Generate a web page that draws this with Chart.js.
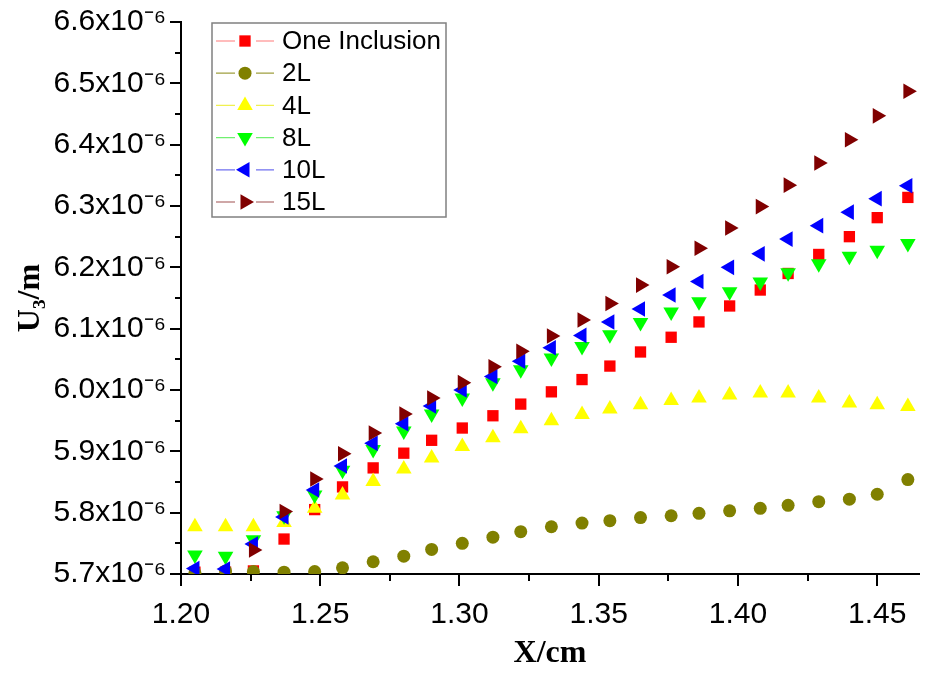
<!DOCTYPE html>
<html>
<head>
<meta charset="utf-8">
<script src="https://cdn.jsdelivr.net/npm/chart.js@4.4.0/dist/chart.umd.min.js"></script>
<style>
	body{ margin:0; background:#fff }
	#grafico{ display:block }
</style>
</head>
<body>
<canvas id="grafico" width="928" height="673"></canvas>
<script>
// posiciones X/cm
const posiciones = [1.205, 1.216, 1.226, 1.237, 1.248, 1.258, 1.269, 1.280, 1.290, 1.301, 1.312, 1.322, 1.333,
	1.344, 1.354, 1.365, 1.376, 1.386, 1.397, 1.408, 1.418, 1.429, 1.440, 1.450, 1.461]

// U3/m, en unidades de 1e-6
const unaInclusion = [5.703, 5.703, 5.705, 5.757, 5.805, 5.842, 5.873, 5.897, 5.918, 5.938, 5.958, 5.977, 5.997,
	6.017, 6.039, 6.062, 6.086, 6.111, 6.137, 6.163, 6.190, 6.221, 6.250, 6.281, 6.314]
const capas2L = [5.702, 5.705, 5.704, 5.703, 5.704, 5.710, 5.720, 5.729, 5.740, 5.750, 5.760, 5.769, 5.777,
	5.783, 5.787, 5.792, 5.795, 5.799, 5.803, 5.807, 5.812, 5.818, 5.822, 5.830, 5.854]
const capas4L = [5.777, 5.777, 5.777, 5.784, 5.807, 5.829, 5.851, 5.871, 5.889, 5.908, 5.922, 5.937, 5.950,
	5.960, 5.969, 5.976, 5.983, 5.987, 5.992, 5.995, 5.995, 5.987, 5.979, 5.976, 5.973]
const capas8L = [5.731, 5.729, 5.756, 5.795, 5.829, 5.869, 5.903, 5.933, 5.961, 5.987, 6.012, 6.033, 6.052,
	6.071, 6.090, 6.110, 6.127, 6.144, 6.160, 6.176, 6.191, 6.206, 6.218, 6.228, 6.239]
const capas10L = [5.709, 5.708, 5.749, 5.793, 5.837, 5.876, 5.913, 5.945, 5.974, 6.000, 6.022, 6.047, 6.069,
	6.089, 6.111, 6.132, 6.155, 6.177, 6.200, 6.222, 6.246, 6.268, 6.290, 6.312, 6.333]
const capas15L = [null, null, 5.739, 5.802, 5.855, 5.896, 5.930, 5.961, 5.987, 6.012, 6.038, 6.063, 6.088,
	6.114, 6.141, 6.171, 6.201, 6.231, 6.264, 6.299, 6.334, 6.370, 6.408, 6.447, 6.487]

const nombres = ["One Inclusion", "2L", "4L", "8L", "10L", "15L"]

const ticksX = [1.20, 1.25, 1.30, 1.35, 1.40, 1.45]
const menoresX = [1.225, 1.275, 1.325, 1.375, 1.425]
const ticksY = [5.7, 5.8, 5.9, 6.0, 6.1, 6.2, 6.3, 6.4, 6.5, 6.6]
const menoresY = [5.75, 5.85, 5.95, 6.05, 6.15, 6.25, 6.35, 6.45, 6.55]

function serie(nombre, valores, color, linea, estilo, radio, giro, orden){
	return {
		label: nombre,
		data: posiciones.map((x, i) => ({x: x, y: valores[i]})),
		backgroundColor: color,
		borderColor: color,
		pointStyle: estilo,
		pointRadius: radio,
		pointHoverRadius: radio,
		pointRotation: giro,
		pointBorderWidth: 0,
		showLine: false,
		order: orden,
		lineaLeyenda: linea
	}
}

const series = [
	serie(nombres[0], unaInclusion, "#ff0000", "#ff7a7a", "rect", 8, 0, 6),
	serie(nombres[1], capas2L, "#808000", "#a0a040", "circle", 6.5, 0, 5),
	serie(nombres[2], capas4L, "#ffff00", "#f0f050", "triangle", 9, 0, 4),
	serie(nombres[3], capas8L, "#00ff00", "#70f070", "triangle", 9, 180, 3),
	serie(nombres[4], capas10L, "#0000ff", "#7070f0", "triangle", 9, -90, 2),
	serie(nombres[5], capas15L, "#800000", "#a05050", "triangle", 9, 90, 1)
]

// marcas menores de los ejes
const marcasMenores = {
	id: "marcasMenores",
	afterDraw(chart){
		const {ctx, chartArea, scales} = chart
		ctx.save()
		ctx.strokeStyle = "#000"
		ctx.lineWidth = 2
		ctx.beginPath()
		menoresX.forEach(v => {
			const px = Math.round(scales.x.getPixelForValue(v))
			ctx.moveTo(px, chartArea.bottom)
			ctx.lineTo(px, chartArea.bottom + 7)
		})
		menoresY.forEach(v => {
			const py = Math.round(scales.y.getPixelForValue(v))
			ctx.moveTo(chartArea.left, py)
			ctx.lineTo(chartArea.left - 6, py)
		})
		ctx.stroke()
		ctx.restore()
	}
}

// leyenda dentro del grafico, linea-marcador-linea
const leyenda = {
	id: "leyenda",
	afterDraw(chart){
		const ctx = chart.ctx
		ctx.save()
		ctx.fillStyle = "#fff"
		ctx.fillRect(212, 23, 234, 194)
		ctx.strokeStyle = "#808080"
		ctx.lineWidth = 1.5
		ctx.strokeRect(212, 23, 234, 194)
		chart.data.datasets.forEach((ds, i) => {
			const y = 41 + i * 32.2
			ctx.strokeStyle = ds.lineaLeyenda
			ctx.lineWidth = 1.2
			ctx.beginPath()
			ctx.moveTo(216, y)
			ctx.lineTo(235, y)
			ctx.moveTo(256, y)
			ctx.lineTo(274, y)
			ctx.stroke()
			ctx.fillStyle = ds.backgroundColor
			Chart.helpers.drawPoint(ctx, {pointStyle: ds.pointStyle, radius: ds.pointRadius, rotation: ds.pointRotation, borderWidth: 0}, 245, y)
			ctx.fillStyle = "#000"
			ctx.font = "26px 'Liberation Sans', Arial, sans-serif"
			ctx.textBaseline = "middle"
			ctx.fillText(ds.label, 282, y + 1)
		})
		ctx.restore()
	}
}

const fuenteEjes = {family: "'Liberation Sans', Arial, sans-serif", size: 30}
const fuenteTitulos = {family: "'Liberation Serif', 'Times New Roman', serif", size: 32, weight: "bold"}

new Chart("grafico", {
	type: "scatter",
	data: {datasets: series},
	plugins: [marcasMenores, leyenda],
	options: {
		responsive: false,
		animation: false,
		layout: {padding: {top: 22, right: 4, left: 0, bottom: 0}},
		plugins: {legend: {display: false}, tooltip: {enabled: false}},
		scales: {
			x: {
				type: "linear",
				min: 1.2,
				max: 1.465,
				afterBuildTicks: s => { s.ticks = ticksX.map(v => ({value: v})) },
				afterFit: s => { s.height = 99 },
				border: {display: true, color: "#000", width: 2},
				grid: {display: true, drawOnChartArea: false, color: "#000", lineWidth: 2, tickLength: 12},
				ticks: {color: "#000", font: fuenteEjes, padding: 11, maxRotation: 0, callback: v => v.toFixed(2)},
				title: {display: true, text: "X/cm", color: "#000", font: fuenteTitulos, padding: {top: 0, bottom: 0}}
			},
			y: {
				type: "linear",
				min: 5.7,
				max: 6.6,
				afterBuildTicks: s => { s.ticks = ticksY.map(v => ({value: v})) },
				afterFit: s => { s.width = 181 },
				border: {display: true, color: "#000", width: 2},
				grid: {display: true, drawOnChartArea: false, color: "#000", lineWidth: 2, tickLength: 11},
				ticks: {color: "#000", font: fuenteEjes, padding: 4, callback: v => v.toFixed(1) + "x10\u207B\u2076"},
				title: {display: true, text: "U\u2083/m", color: "#000", font: fuenteTitulos, padding: {top: 12, bottom: 0}}
			}
		}
	}
})
</script>
</body>
</html>
